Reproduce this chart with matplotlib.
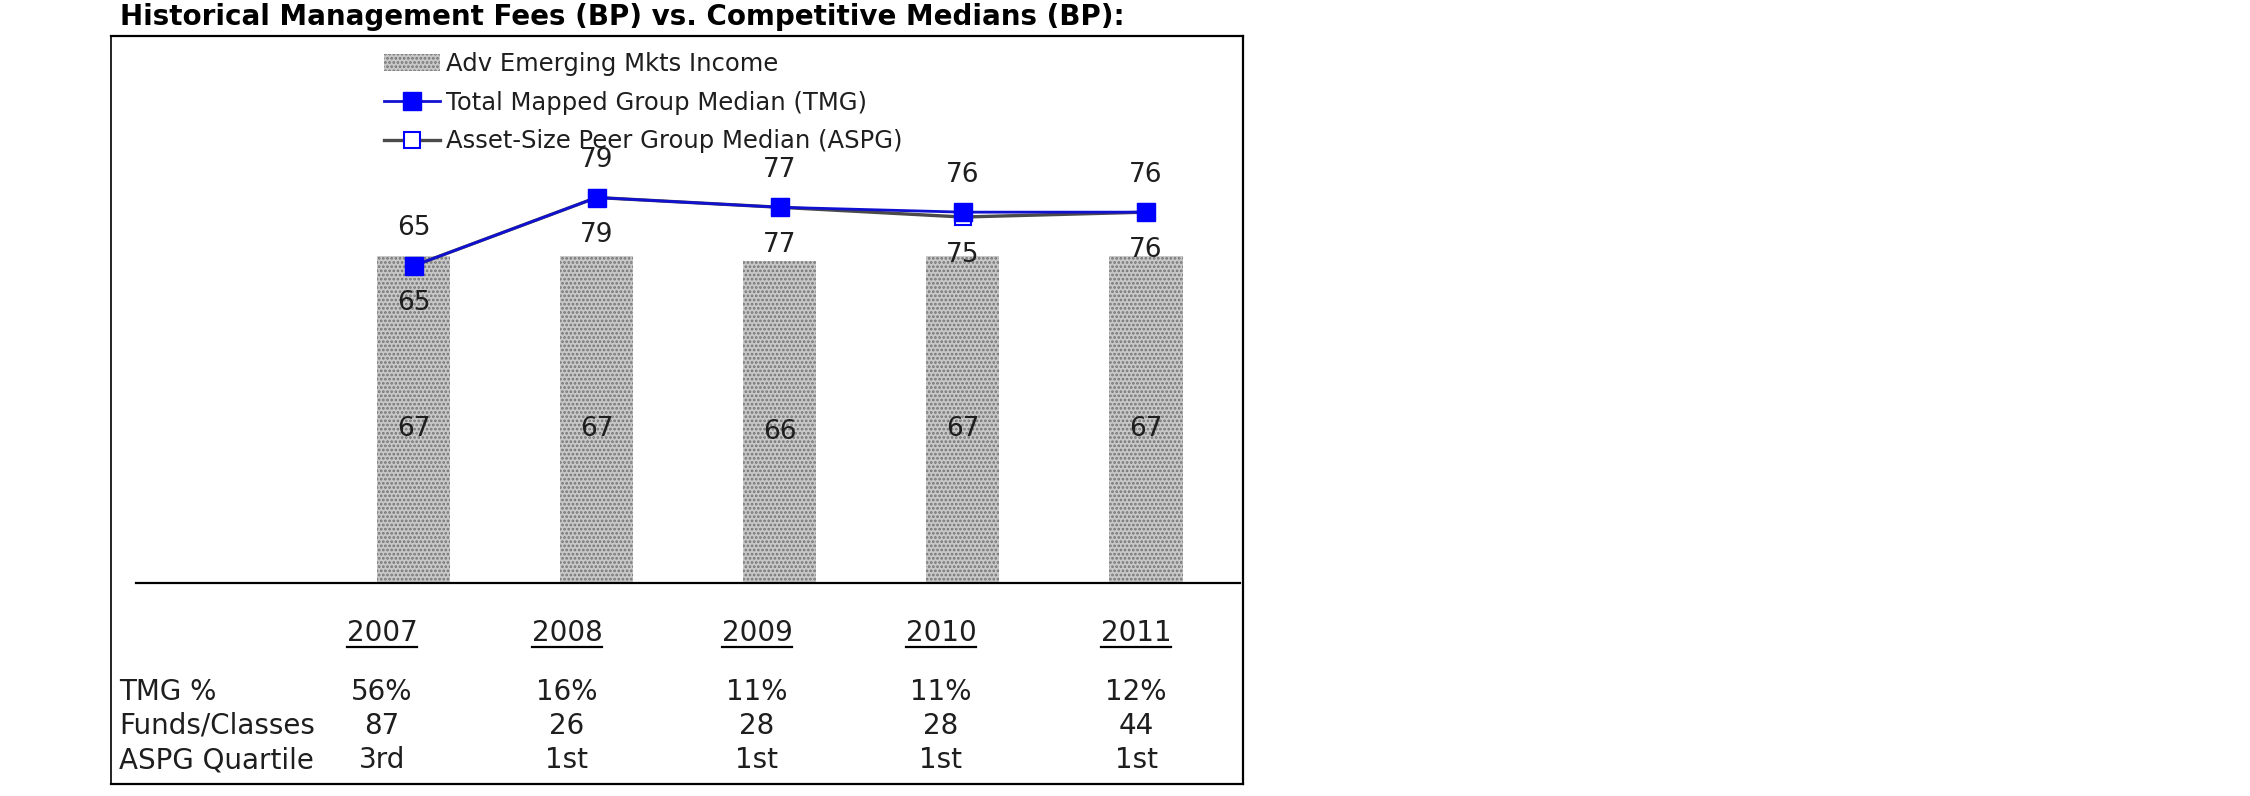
import matplotlib
matplotlib.use("Agg")
import matplotlib.pyplot as plt
from matplotlib.lines import Line2D

# ---- data ----
years = ['2007', '2008', '2009', '2010', '2011']
fund_fees = [67, 67, 66, 67, 67]
tmg_median = [65, 79, 77, 76, 76]
aspg_median = [65, 79, 77, 75, 76]
row_labels = ['TMG %', 'Funds/Classes', 'ASPG Quartile']
tmg_pct = ['56%', '16%', '11%', '11%', '12%']
funds_classes = ['87', '26', '28', '28', '44']
aspg_quartile = ['3rd', '1st', '1st', '1st', '1st']
title = 'Historical Management Fees (BP) vs. Competitive Medians (BP):'
series_names = ['Adv Emerging Mkts Income', 'Total Mapped Group Median (TMG)',
                'Asset-Size Peer Group Median (ASPG)']

W, H = 2250, 796
plt.rcParams['font.family'] = ['DejaVu Sans']
plt.rcParams['hatch.linewidth'] = 1.3
fig = plt.figure(figsize=(W / 100, H / 100), dpi=100)

def fx(px):
    return px / W

def fy(py):
    return 1 - py / H

# axes: left 136, right 1240, top 36, bottom 583 (px)
ax = fig.add_axes([fx(136), fy(583), fx(1240) - fx(136), (583 - 36) / H])
x = list(range(len(years)))
ax.set_xlim(-1.516, 4.514)
ax.set_ylim(0, 112.1)

bars = ax.bar(x, fund_fees, width=0.4, color='#c8c8c8', edgecolor='#747474',
              linewidth=0, hatch='....', zorder=1)
txtc = '#1e1e1e'
for xi, v in zip(x, fund_fees):
    ax.annotate(str(v), (xi, v / 2), xytext=(0, -7), textcoords='offset points',
                ha='center', va='center', fontsize=19, color=txtc, zorder=2)

l_aspg, = ax.plot(x, aspg_median, color='#4a4a4a', lw=2.4, marker='s', markersize=12,
                  markerfacecolor='white', markeredgecolor='#0000ff', markeredgewidth=1.5, zorder=3)
l_tmg, = ax.plot(x, tmg_median, color='#1010d0', lw=2.0, marker='s', markersize=12.5,
                 markerfacecolor='#0000ff', markeredgecolor='#0000ff', zorder=4)

for xi, v in zip(x, tmg_median):
    ax.annotate(str(v), (xi, v), xytext=(0, 27), textcoords='offset points',
                ha='center', va='center', fontsize=19, color=txtc)
for xi, v in zip(x, aspg_median):
    ax.annotate(str(v), (xi, v), xytext=(0, -27), textcoords='offset points',
                ha='center', va='center', fontsize=19, color=txtc)

for s in ['top', 'left', 'right']:
    ax.spines[s].set_visible(False)
ax.spines['bottom'].set_linewidth(1.6)
ax.spines['bottom'].set_color('black')
ax.set_xticks([])
ax.set_yticks([])
ax.patch.set_visible(False)

leg = ax.legend([bars, l_tmg, l_aspg], series_names, loc='upper left',
                bbox_to_anchor=(fx(384), fy(52)), bbox_transform=fig.transFigure,
                frameon=False, fontsize=17.5, handlelength=2.3, handletextpad=0.25,
                labelspacing=0.6, borderpad=0, borderaxespad=0, labelcolor=txtc)

# title
fig.text(fx(120), fy(17), title, ha='left', va='center', fontsize=20,
         fontweight='bold', color='black')

# outer box
fig.add_artist(Line2D([fx(111), fx(1243)], [fy(36), fy(36)], transform=fig.transFigure,
                      color='black', lw=1.6))
fig.add_artist(Line2D([fx(111), fx(1243)], [fy(784), fy(784)], transform=fig.transFigure,
                      color='black', lw=1.6))
fig.add_artist(Line2D([fx(111), fx(111)], [fy(36), fy(784)], transform=fig.transFigure,
                      color='black', lw=1.2))
fig.add_artist(Line2D([fx(1243), fx(1243)], [fy(36), fy(784)], transform=fig.transFigure,
                      color='black', lw=1.6))

# table below
col_x = [382, 567, 757, 941, 1136]
year_texts = []
for cx, yr in zip(col_x, years):
    t = fig.text(fx(cx), fy(633), yr, ha='center', va='center', fontsize=20, color=txtc)
    year_texts.append(t)

rows = [tmg_pct, funds_classes, aspg_quartile]
row_y = [692, 726, 760]
for lab, vals, ry in zip(row_labels, rows, row_y):
    fig.text(fx(119), fy(ry), lab, ha='left', va='center', fontsize=20, color=txtc)
    for cx, v in zip(col_x, vals):
        fig.text(fx(cx), fy(ry), v, ha='center', va='center', fontsize=20, color=txtc)

fig.canvas.draw()
r = fig.canvas.get_renderer()
for t in year_texts:
    bb = t.get_window_extent(renderer=r)
    fig.add_artist(Line2D([bb.x0 / W, bb.x1 / W], [fy(647), fy(647)],
                          transform=fig.transFigure, color='black', lw=1.6))

fig.savefig('out.png', dpi=100)
